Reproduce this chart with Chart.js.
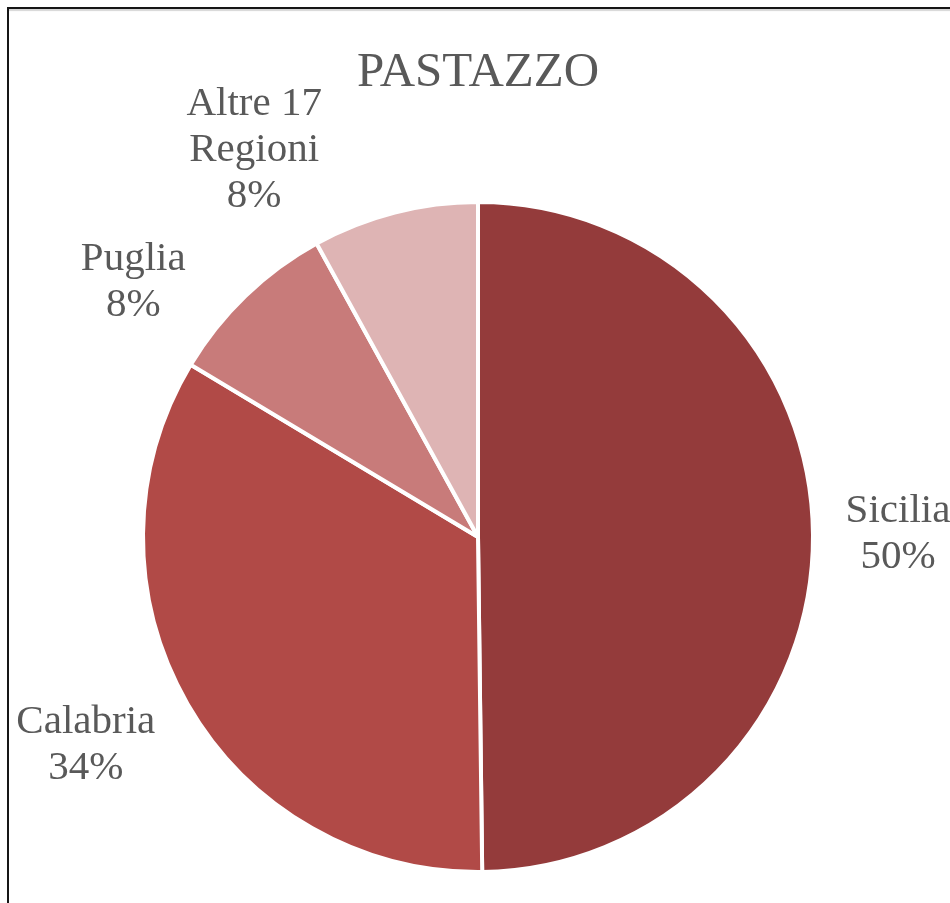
<!DOCTYPE html>
<html>
<head>
<meta charset="utf-8">
<title>PASTAZZO</title>
<script src="https://cdn.jsdelivr.net/npm/chart.js@4.4.1/dist/chart.umd.min.js"></script>
<style>
  html, body { margin: 0; padding: 0; background: #fff; overflow: hidden; }
  #wrap { position: relative; width: 950px; height: 903px; }
  #cornice {
    position: absolute; left: 7px; top: 7px; width: 980px; height: 940px;
    border: 2px solid #161616; box-shadow: inset 0 3px 1px -1px #d6d6d6;
  }
  #torta { position: absolute; left: 0; top: 0; }
</style>
</head>
<body>
<div id="wrap">
  <div id="cornice"></div>
  <canvas id="torta" width="950" height="903"></canvas>
</div>
<script>
/* dati */
const titolo = 'PASTAZZO';
const regioni = ['Sicilia', 'Calabria', 'Puglia', 'Altre 17 Regioni'];
const righeEtichette = [['Sicilia'], ['Calabria'], ['Puglia'], ['Altre 17', 'Regioni']];
const quote = [49.8, 33.8, 8.4, 8.0];
const colori = ['#943b3b', '#b14a47', '#c87b7a', '#deb4b4'];

/* spostamento delle etichette rispetto al bordo della fetta */
const spostamenti = [[83, -1], [-100, 40], [-111, -12], [-140, -60]];

const fontSerif = '"Liberation Serif", "Times New Roman", serif';
const grigioTesto = '#595959';

const etichettePlugin = {
  id: 'etichette',
  afterDraw(chart) {
    const ctx = chart.ctx;
    const meta = chart.getDatasetMeta(0);
    const totale = quote.reduce((a, b) => a + b, 0);

    ctx.save();
    ctx.fillStyle = grigioTesto;

    // titolo
    ctx.font = '49px ' + fontSerif;
    ctx.textAlign = 'center';
    ctx.textBaseline = 'alphabetic';
    ctx.fillText(titolo, 478, 86);

    ctx.font = '41px ' + fontSerif;
    ctx.textBaseline = 'middle';
    const interlinea = 46;

    meta.data.forEach((arc, i) => {
      const p = arc.getProps(['x', 'y', 'startAngle', 'endAngle', 'outerRadius'], true);
      const medio = (p.startAngle + p.endAngle) / 2;
      const r = p.outerRadius + 2;
      const x = p.x + Math.cos(medio) * r + spostamenti[i][0];
      const y = p.y + Math.sin(medio) * r + spostamenti[i][1];

      const perc = Math.round(quote[i] / totale * 100) + '%';
      const righe = righeEtichette[i].concat([perc]);
      const y0 = y - (righe.length - 1) * interlinea / 2;
      righe.forEach((t, k) => ctx.fillText(t, x, y0 + k * interlinea));
    });
    ctx.restore();
  }
};

const ctxTorta = document.getElementById('torta').getContext('2d');
const graficoTorta = new Chart(ctxTorta, {
  type: 'pie',
  data: {
    labels: regioni,
    datasets: [{
      data: quote,
      backgroundColor: colori,
      borderColor: '#ffffff',
      borderWidth: 4
    }]
  },
  options: {
    responsive: false,
    devicePixelRatio: 1,
    animation: false,
    layout: {
      padding: { top: 200, bottom: 29, left: 141, right: 135 }
    },
    plugins: {
      legend: { display: false },
      title: { display: false },
      tooltip: { enabled: false }
    }
  },
  plugins: [etichettePlugin]
});
</script>
</body>
</html>
